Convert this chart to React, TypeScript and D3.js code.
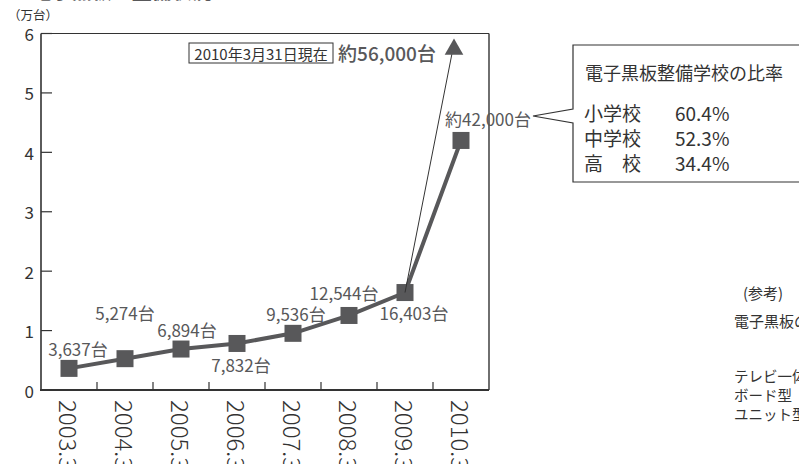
import React from "react";
import * as d3 from "d3";

// Electronic blackboard installations (units, end of March each year)
const years = ["2003.3", "2004.3", "2005.3", "2006.3", "2007.3", "2008.3", "2009.3", "2010.3"];
const units = [3637, 5274, 6894, 7832, 9536, 12544, 16403, 42000];
const unitLabels = ["3,637台", "5,274台", "6,894台", "7,832台", "9,536台", "12,544台", "16,403台", "約42,000台"];
const latestUnits = 56000;
const latestLabel = "約56,000台";
const latestDate = "2010年3月31日現在";
const yTicks = [0, 1, 2, 3, 4, 5, 6];

// Share of schools equipped
const schoolTypes = ["小学校", "中学校", "高　校"];
const schoolRates = ["60.4%", "52.3%", "34.4%"];

// Label offsets from each point (px)
const labelOffsets: [number, number][] = [
  [9, -20], [0, -46], [6, -20], [4, 21], [3, -20], [-5, -23], [9, 20], [27, -22],
];

const W = 799;
const H = 464;
const M = { left: 41, right: 489, top: 33.5, bottom: 390 };
const GRAY = "#58585a";
const DARK = "#333333";
const FONT = "'Noto Sans CJK JP', 'Noto Sans', sans-serif";

export default function App() {
  const x = d3.scaleBand<string>().domain(years).range([M.left, M.right]).padding(0);
  const y = d3.scaleLinear().domain([0, 6]).range([M.bottom, M.top]);
  const cx = (d: string) => (x(d) ?? 0) + x.bandwidth() / 2;

  const pts = years.map((d, i) => [cx(d), y(units[i] / 10000)] as [number, number]);
  const line = d3.line()(pts) ?? "";

  const last = pts[pts.length - 2];
  const arrowX = cx(years[years.length - 1]) - 7;
  const arrowY = y(latestUnits / 10000) - 8;
  const tri = d3.symbol().type(d3.symbolTriangle).size(150)() ?? "";

  // Callout box with pointer toward the 2010 label
  const bx = 573, by = 45, bw = 240, bh = 137;
  const tipX = 533, tipY = 116;
  const callout = `M${bx},109 L${bx},${by} L${bx + bw},${by} L${bx + bw},${by + bh} L${bx},${by + bh} L${bx},123 L${tipX},${tipY} Z`;

  const innerTicks = years.slice(1).map((d) => x(d) ?? 0);

  return (
    <svg
      width={W}
      height={H}
      style={{ position: "absolute", left: 0, top: 0, background: "#fff", fontFamily: FONT }}
    >
      <rect width={W} height={H} fill="#fff" />
      <text x={0} y={-1} fontSize={20} fontWeight={700} fill={GRAY}>2．電子黒板の整備状況</text>
      <text x={8} y={20} fontSize={12.5} fill={DARK}>（万台）</text>

      {/* frame */}
      <line x1={M.left} x2={M.right} y1={M.top} y2={M.top} stroke={DARK} strokeWidth={1.2} />
      <line x1={M.right} x2={M.right} y1={M.top} y2={M.bottom} stroke={DARK} strokeWidth={1.4} />
      <line x1={M.left} x2={M.left} y1={M.top} y2={M.bottom + 1} stroke={DARK} strokeWidth={1.6} />
      <line x1={M.left - 1} x2={M.right} y1={M.bottom} y2={M.bottom} stroke={DARK} strokeWidth={2} />

      {/* y axis */}
      {yTicks.map((t) => (
        <g key={t}>
          <line x1={M.left} x2={M.left + 11} y1={y(t)} y2={y(t)} stroke={DARK} strokeWidth={1.2} />
          <text x={M.left - 7} y={y(t)} textAnchor="end" dominantBaseline="central" fontSize={17} fill={DARK}>
            {t}
          </text>
        </g>
      ))}

      {/* x axis */}
      {innerTicks.map((tx, i) => (
        <line key={i} x1={tx} x2={tx} y1={M.bottom} y2={M.bottom - 8} stroke={DARK} strokeWidth={1.2} />
      ))}
      {years.map((d) => (
        <text
          key={d}
          transform={`translate(${cx(d) - 10},${M.bottom + 10}) rotate(90)`}
          fontSize={24}
          fontWeight={300}
          fill={DARK}
        >
          {d}
        </text>
      ))}

      {/* series */}
      <path d={line} fill="none" stroke={GRAY} strokeWidth={4} />
      {pts.map(([px, py], i) => (
        <rect key={i} x={px - 8.5} y={py - 8.5} width={17} height={17} fill={GRAY} />
      ))}

      {/* thin arrow to latest estimate */}
      <line x1={last[0]} y1={last[1]} x2={arrowX} y2={arrowY - 6} stroke={DARK} strokeWidth={1} />
      <path d={tri} transform={`translate(${arrowX},${arrowY})`} fill={GRAY} />

      {pts.map(([px, py], i) => (
        <text
          key={`l${i}`}
          x={px + labelOffsets[i][0]}
          y={py + labelOffsets[i][1]}
          textAnchor="middle"
          dominantBaseline="central"
          fontSize={17}
          fill={GRAY}
        >
          {unitLabels[i]}
        </text>
      ))}

      {/* date box and latest value */}
      <rect x={189} y={43} width={144} height={20} fill="#fff" stroke={DARK} strokeWidth={1} />
      <text x={261} y={53.5} textAnchor="middle" dominantBaseline="central" fontSize={15} fill={DARK}>
        {latestDate}
      </text>
      <text x={387} y={52} textAnchor="middle" dominantBaseline="central" fontSize={19} fontWeight={500} fill={GRAY}>
        {latestLabel}
      </text>

      {/* callout */}
      <path d={callout} fill="#fff" stroke={DARK} strokeWidth={1.2} />
      <text x={585} y={72} dominantBaseline="central" fontSize={18} fill={DARK}>電子黒板整備学校の比率</text>
      {schoolTypes.map((s, i) => (
        <g key={s}>
          <text x={584} y={112 + i * 25} dominantBaseline="central" fontSize={19} fill={DARK}>{s}</text>
          <text x={675} y={112 + i * 25} dominantBaseline="central" fontSize={19} fill={DARK}>{schoolRates[i]}</text>
        </g>
      ))}

      {/* reference note */}
      <text x={743} y={292} dominantBaseline="central" fontSize={15} fill={DARK}>(参考)</text>
      <text x={734} y={320} dominantBaseline="central" fontSize={15} fill={DARK}>電子黒板の種類</text>
      <text x={734} y={375} dominantBaseline="central" fontSize={14.5} fill={DARK}>テレビ一体型</text>
      <text x={734} y={394} dominantBaseline="central" fontSize={14.5} fill={DARK}>ボード型</text>
      <text x={734} y={413} dominantBaseline="central" fontSize={14.5} fill={DARK}>ユニット型</text>
    </svg>
  );
}
